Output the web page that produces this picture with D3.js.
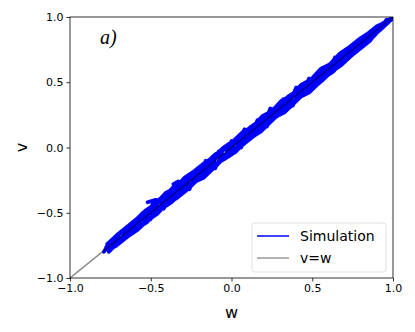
<!DOCTYPE html>
<html>
<head>
<meta charset="utf-8">
<script src="https://cdn.jsdelivr.net/npm/d3@7"></script>
<style>
  body { margin: 0; background: #fff; }
  text { font-family: "DejaVu Sans", sans-serif; }
</style>
</head>
<body>
<div id="chart"></div>
<script>
// tick values
var ticks = [-1.0, -0.5, 0.0, 0.5, 1.0];

// simulated trajectory (several passes along the diagonal)
var simW = [
  -0.78,-0.74,-0.70,-0.65,-0.60,-0.55,-0.50,-0.45,-0.40,-0.35,-0.30,-0.25,-0.20,-0.15,-0.10,-0.05,0.00,0.05,0.10,0.15,0.20,0.25,0.30,0.35,0.40,0.45,0.50,0.55,0.60,0.65,0.70,0.75,0.80,0.85,0.90,0.95,1.00,
  0.98,0.93,0.88,0.83,0.78,0.73,0.68,0.63,0.58,0.53,0.48,0.43,0.38,0.33,0.28,0.23,0.18,0.13,0.08,0.03,-0.02,-0.07,-0.12,-0.17,-0.22,-0.27,-0.32,-0.37,-0.42,-0.47,-0.52,-0.57,-0.62,-0.67,-0.72,-0.76,
  -0.74,-0.68,-0.62,-0.56,-0.50,-0.47,-0.52,-0.45,-0.38,-0.33,-0.36,-0.29,-0.22,-0.16,-0.10,-0.04,0.02,0.08,0.14,0.20,0.26,0.32,0.38,0.44,0.50,0.56,0.62,0.68,0.74,0.80,0.86,0.92,0.96,
  0.94,0.88,0.82,0.76,0.70,0.64,0.58,0.52,0.46,0.40,0.34,0.28,0.22,0.16,0.10,0.04,-0.02,-0.08,-0.14,-0.20,-0.26,-0.32,-0.38,-0.44,-0.50,-0.56,-0.62,-0.68,-0.74,-0.79,
  -0.76,-0.66,-0.56,-0.46,-0.36,-0.26,-0.16,-0.06,0.04,0.14,0.24,0.34,0.44,0.54,0.64,0.74,0.84,0.92,
  0.97,0.90,0.84,0.78,0.72,0.66,0.60,0.54,0.48,0.42,0.36,0.30,0.24,0.18,0.12,0.06,0.00,-0.06,-0.12,-0.18,-0.24,-0.30,-0.36,-0.42,-0.48,-0.54,-0.60,-0.66,-0.72,-0.77,
  -0.75,-0.69,-0.63,-0.57,-0.51,-0.45,-0.39,-0.33,-0.27,-0.21,-0.15,-0.09,-0.03,0.03,0.09,0.15,0.21,0.27,0.33,0.39,0.45,0.51,0.57,0.63,0.69,0.75,0.81,0.87,0.93,0.99,
  0.90,0.85,0.79,0.73,0.67,0.61,0.55,0.49,0.43,0.37,0.31,0.25,0.19,0.13,0.07,0.01,-0.05,-0.11,-0.17,-0.23,-0.29,-0.35,-0.41,-0.47,-0.53,-0.59,-0.65,-0.71,-0.77,
  -0.72,-0.64,-0.58,-0.52,-0.46,-0.40,-0.34,-0.28,-0.22,-0.16,-0.10,-0.04,0.02,0.08,0.14,0.20,0.26,0.32,0.38,0.44,0.50,0.56,0.62,0.68,0.74,0.80,0.86,
  0.96,0.92,0.88,0.84,0.80,0.76,0.72,0.68,0.64,0.60,0.56,0.52,0.48,0.44,0.40,0.36,0.32,0.28,0.24,0.20,0.16,0.12,0.08,0.04,0.00,-0.04,-0.08,-0.12,-0.16,-0.20,-0.24,-0.28,-0.32,-0.36,-0.40,-0.44,-0.48,-0.52,-0.56,-0.60,-0.64,-0.68,-0.72,-0.76,
  -0.74,-0.70,-0.66,-0.62,-0.58,-0.54,-0.50,-0.46,-0.42,-0.38,-0.34,-0.30,-0.26,-0.22,-0.18,-0.14,-0.10,-0.06,-0.02,0.02,0.06,0.10,0.14,0.18,0.22,0.26,0.30,0.34,0.38,0.42,0.46,0.50,0.54,0.58,0.62,0.66,0.70,0.74,0.78,0.82,0.86,0.90,0.94
];
var simV = [
  -0.77,-0.71,-0.67,-0.61,-0.57,-0.50,-0.46,-0.40,-0.37,-0.30,-0.26,-0.21,-0.15,-0.11,-0.05,-0.02,0.04,0.08,0.14,0.18,0.24,0.28,0.33,0.39,0.43,0.49,0.53,0.58,0.62,0.68,0.72,0.77,0.82,0.87,0.92,0.96,1.00,
  0.97,0.91,0.86,0.80,0.75,0.69,0.65,0.58,0.54,0.48,0.42,0.39,0.33,0.27,0.24,0.18,0.12,0.08,0.04,-0.03,-0.07,-0.11,-0.17,-0.23,-0.26,-0.32,-0.36,-0.42,-0.46,-0.50,-0.57,-0.61,-0.65,-0.71,-0.75,-0.80,
  -0.72,-0.65,-0.60,-0.53,-0.46,-0.40,-0.42,-0.40,-0.33,-0.26,-0.28,-0.26,-0.20,-0.13,-0.08,-0.01,0.03,0.10,0.15,0.22,0.27,0.34,0.39,0.46,0.51,0.58,0.63,0.70,0.75,0.82,0.88,0.94,0.97,
  0.93,0.85,0.80,0.72,0.68,0.60,0.56,0.48,0.45,0.36,0.32,0.24,0.21,0.12,0.09,0.00,-0.04,-0.12,-0.13,-0.23,-0.25,-0.36,-0.37,-0.48,-0.48,-0.60,-0.61,-0.71,-0.73,-0.80,
  -0.73,-0.63,-0.55,-0.43,-0.35,-0.23,-0.15,-0.02,0.05,0.17,0.25,0.37,0.45,0.57,0.65,0.77,0.86,0.93,
  0.98,0.92,0.87,0.80,0.75,0.69,0.63,0.57,0.51,0.46,0.39,0.33,0.28,0.21,0.16,0.09,0.04,-0.03,-0.08,-0.15,-0.20,-0.27,-0.33,-0.38,-0.45,-0.50,-0.57,-0.62,-0.69,-0.75,
  -0.78,-0.71,-0.66,-0.59,-0.54,-0.47,-0.42,-0.35,-0.30,-0.24,-0.17,-0.12,-0.06,0.00,0.06,0.12,0.18,0.24,0.31,0.36,0.42,0.49,0.54,0.61,0.66,0.73,0.79,0.85,0.91,0.98,
  0.93,0.88,0.83,0.77,0.72,0.64,0.60,0.52,0.48,0.40,0.36,0.28,0.24,0.16,0.12,0.05,0.00,-0.07,-0.12,-0.18,-0.23,-0.31,-0.35,-0.43,-0.48,-0.55,-0.61,-0.67,-0.74,
  -0.76,-0.68,-0.63,-0.56,-0.51,-0.43,-0.39,-0.33,-0.25,-0.21,-0.15,-0.07,-0.03,0.03,0.09,0.15,0.22,0.27,0.33,0.40,0.45,0.51,0.58,0.63,0.70,0.76,0.82,
  0.98,0.91,0.91,0.83,0.84,0.74,0.76,0.66,0.69,0.58,0.61,0.49,0.53,0.42,0.46,0.34,0.37,0.25,0.30,0.18,0.21,0.09,0.14,0.02,0.05,-0.07,-0.03,-0.14,-0.10,-0.23,-0.19,-0.30,-0.28,-0.39,-0.35,-0.46,-0.44,-0.54,-0.52,-0.62,-0.61,-0.70,-0.69,-0.77,
  -0.77,-0.69,-0.70,-0.60,-0.62,-0.53,-0.55,-0.44,-0.47,-0.37,-0.39,-0.28,-0.32,-0.21,-0.23,-0.12,-0.16,-0.05,-0.07,0.04,0.00,0.11,0.09,0.20,0.16,0.27,0.25,0.36,0.32,0.43,0.41,0.52,0.49,0.59,0.58,0.68,0.66,0.75,0.75,0.83,0.83,0.91,0.92
];

// identity line v=w
var diagW = [-1, 1];
var diagV = [-1, 1];

var margin = {top: 17, right: 22, bottom: 54, left: 70},
    width = 415 - margin.left - margin.right,
    height = 332 - margin.top - margin.bottom;

var x = d3.scaleLinear().domain([-1, 1]).range([0, width]);
var y = d3.scaleLinear().domain([-1, 1]).range([height, 0]);

var fmt = function(d) { return d3.format(".1f")(d).replace("-", "\u2212"); };

var svg = d3.select("#chart").append("svg")
    .attr("width", 415)
    .attr("height", 332)
  .append("g")
    .attr("transform", "translate(" + margin.left + "," + margin.top + ")");

svg.append("defs").append("clipPath").attr("id", "clip")
  .append("rect").attr("width", width).attr("height", height);

var line = d3.line()
    .x(function(d) { return x(d[0]); })
    .y(function(d) { return y(d[1]); });

var sim = simW.map(function(w, i) { return [w, simV[i]]; });
var diag = diagW.map(function(w, i) { return [w, diagV[i]]; });

var plot = svg.append("g").attr("clip-path", "url(#clip)");

plot.append("path")
    .datum(sim)
    .attr("d", line)
    .attr("fill", "none")
    .attr("stroke", "#0000ff")
    .attr("stroke-width", 3.6)
    .attr("stroke-linejoin", "round");

// black at low opacity: grey on white, dark navy on the blue band
plot.append("path")
    .datum(diag)
    .attr("d", line)
    .attr("fill", "none")
    .attr("stroke", "#000")
    .attr("stroke-opacity", 0.45)
    .attr("stroke-width", 1.5);

// axes
var xAxis = d3.axisBottom(x).tickValues(ticks).tickSize(3.5).tickPadding(3).tickFormat(fmt);
var yAxis = d3.axisLeft(y).tickValues(ticks).tickSize(3.5).tickPadding(3).tickFormat(fmt);

var gx = svg.append("g")
    .attr("transform", "translate(0," + height + ")")
    .call(xAxis);
var gy = svg.append("g").call(yAxis);

[gx, gy].forEach(function(g) {
  g.select(".domain").remove();
  g.selectAll(".tick line").attr("stroke", "#000").attr("stroke-width", 0.8);
  g.selectAll(".tick text").attr("fill", "#000").style("font-size", "11px")
    .style("font-family", "DejaVu Sans");
});

// frame
svg.append("rect")
    .attr("width", width)
    .attr("height", height)
    .attr("fill", "none")
    .attr("stroke", "#000")
    .attr("stroke-width", 0.8);

// axis labels
svg.append("text")
    .attr("x", width / 2)
    .attr("y", height + 40)
    .attr("text-anchor", "middle")
    .style("font-size", "16px")
    .text("w");

svg.append("text")
    .attr("transform", "translate(" + (-43) + "," + (height / 2) + ")rotate(-90)")
    .attr("text-anchor", "middle")
    .style("font-size", "16px")
    .text("v");

// panel tag
svg.append("text")
    .attr("x", 30)
    .attr("y", 27)
    .style("font-family", "'Liberation Serif', serif")
    .style("font-style", "italic")
    .style("font-size", "20px")
    .text("a)");

// legend
var lg = svg.append("g").attr("transform", "translate(" + (width - 141) + "," + (height - 55) + ")");
lg.append("rect")
    .attr("width", 134)
    .attr("height", 49)
    .attr("rx", 3)
    .attr("fill", "#fff")
    .attr("fill-opacity", 0.8)
    .attr("stroke", "#d9d9d9")
    .attr("stroke-width", 0.8);

var items = [["Simulation", "#0000ff", 1], ["v=w", "#000", 0.4]];
items.forEach(function(it, i) {
  var yy = 13 + i * 22;
  lg.append("line")
      .attr("x1", 5).attr("x2", 37)
      .attr("y1", yy).attr("y2", yy)
      .attr("stroke", it[1])
      .attr("stroke-opacity", it[2])
      .attr("stroke-width", 1.5);
  lg.append("text")
      .attr("x", 48)
      .attr("y", yy + 5)
      .style("font-size", "14px")
      .text(it[0]);
});
</script>
</body>
</html>
